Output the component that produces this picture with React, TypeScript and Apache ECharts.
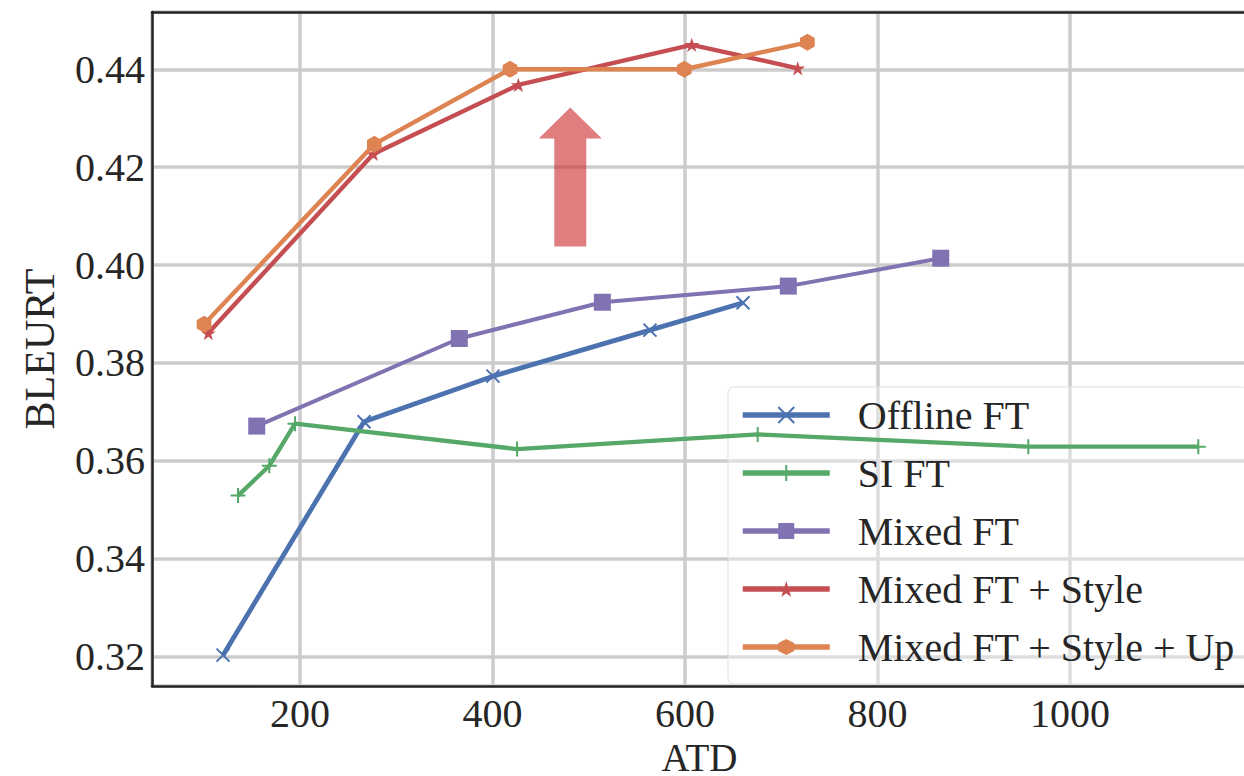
import React, { useEffect, useRef } from 'react';
import * as echarts from 'echarts';

const FONT = 'Liberation Serif, Times New Roman, serif';

const seriesNames = ['Offline FT', 'SI FT', 'Mixed FT', 'Mixed FT + Style', 'Mixed FT + Style + Up'];
const seriesColors = ['#4C72B0', '#55A868', '#8172B2', '#C44E52', '#DD8452'];

const offlineX = [120, 266.5, 400.5, 563.6, 660.3];
const offlineY = [0.3203, 0.368, 0.3773, 0.3867, 0.3923];

const siX = [135.6, 168.1, 194.8, 425.5, 675.5, 956.7, 1133.3];
const siY = [0.3529, 0.359, 0.3676, 0.3624, 0.3654, 0.3629, 0.3629];

const mixedX = [155, 365.5, 514.1, 707.3, 865.7];
const mixedY = [0.3671, 0.385, 0.3924, 0.3957, 0.4014];

const styleX = [104.7, 276.2, 426.8, 607, 717.1];
const styleY = [0.3861, 0.4227, 0.4368, 0.445, 0.4402];

const upX = [100.3, 277.2, 418.2, 599.3, 727.1];
const upY = [0.3879, 0.4247, 0.44, 0.44, 0.4455];

// arrow annotation: [x, bottom y, apex y]
const arrowData = [[480.8, 0.4038, 0.4322]];

const X_MIN = 46.2;
const X_MAX = 1183.9;
const Y_MIN = 0.314;
const Y_MAX = 0.4517;

const SYM_X = 'path://M0,0L10,10M10,0L0,10';
const SYM_PLUS = 'path://M5,0L5,10M0,5L10,5';
const SYM_STAR =
  'path://M50,0L61.23,34.55L97.55,34.55L68.17,55.9L79.39,90.45L50,69.1L20.61,90.45L31.83,55.9L2.45,34.55L38.77,34.55Z';
const SYM_HEX = 'path://M50,0L93.3,25L93.3,75L50,100L6.7,75L6.7,25Z';

function zip(xs: number[], ys: number[]) {
  return xs.map((x, i) => [x, ys[i]]);
}

export default function App() {
  const ref = useRef<HTMLDivElement>(null);
  useEffect(() => {
    const chart = echarts.init(ref.current!, null, { renderer: 'svg' });
    const lineSeries = (
      idx: number,
      data: number[][],
      symbol: string,
      size: number,
      width: number,
      stroke: boolean
    ) => ({
      type: 'line',
      name: seriesNames[idx],
      data,
      symbol,
      symbolSize: size,
      symbolKeepAspect: true,
      showAllSymbol: true,
      lineStyle: { color: seriesColors[idx], width },
      itemStyle: stroke
        ? { color: seriesColors[idx], borderColor: seriesColors[idx], borderWidth: 2 }
        : { color: seriesColors[idx], borderWidth: 0 },
      emphasis: { disabled: true },
      z: 3 + idx,
    });

    const option: any = {
      animation: false,
      backgroundColor: '#ffffff',
      grid: {
        left: 152,
        right: -3,
        top: 12,
        bottom: 90,
        containLabel: false,
        outerBoundsMode: 'none',
      },
      xAxis: [
        {
          type: 'value',
          min: X_MIN,
          max: X_MAX,
          splitNumber: 5,
          name: 'ATD',
          nameLocation: 'middle',
          nameGap: 46,
          nameTextStyle: {
            fontFamily: FONT,
            fontSize: 39,
            lineHeight: 40,
            verticalAlign: 'top',
            color: '#262626',
          },
          axisLine: { show: true, lineStyle: { color: '#262626', width: 2.5 } },
          axisTick: { show: false },
          axisLabel: {
            fontFamily: FONT,
            fontSize: 40,
            color: '#262626',
            margin: 7,
            showMinLabel: false,
            showMaxLabel: false,
            formatter: (v: number) => String(Math.round(v)),
          },
          splitLine: { show: true, lineStyle: { color: '#cccccc', width: 3.5 } },
        },
        {
          type: 'value',
          position: 'top',
          min: X_MIN,
          max: X_MAX,
          axisLine: { show: true, lineStyle: { color: '#262626', width: 2.5 } },
          axisTick: { show: false },
          axisLabel: { show: false },
          splitLine: { show: false },
        },
      ],
      yAxis: {
        type: 'value',
        min: Y_MIN,
        max: Y_MAX,
        splitNumber: 7,
        name: 'BLEURT',
        nameLocation: 'middle',
        nameGap: 91,
        nameTextStyle: { fontFamily: FONT, fontSize: 42, color: '#262626' },
        axisLine: { show: true, lineStyle: { color: '#262626', width: 2.5 } },
        axisTick: { show: false },
        axisLabel: {
          fontFamily: FONT,
          fontSize: 40,
          color: '#262626',
          margin: 7,
          showMinLabel: false,
          showMaxLabel: false,
          formatter: (v: number) => v.toFixed(2),
        },
        splitLine: { show: true, lineStyle: { color: '#cccccc', width: 3.5 } },
      },
      legend: {
        data: seriesNames,
        orient: 'vertical',
        left: 728,
        top: 387,
        itemWidth: 87,
        itemHeight: 20,
        itemGap: 18,
        padding: [8, 12, 17, 12],
        backgroundColor: 'rgba(255,255,255,0.35)',
        borderColor: '#dddddd',
        borderWidth: 1,
        borderRadius: 6,
        selectedMode: false,
        lineStyle: { width: 5.5 },
        textStyle: { fontFamily: FONT, fontSize: 40, color: '#262626', padding: [0, 0, 0, 23] },
      },
      series: [
        lineSeries(0, zip(offlineX, offlineY), SYM_X, 13, 4.8, true),
        lineSeries(1, zip(siX, siY), SYM_PLUS, 15, 4.3, true),
        lineSeries(2, zip(mixedX, mixedY), 'rect', 17, 4, false),
        lineSeries(3, zip(styleX, styleY), SYM_STAR, 15, 4.4, false),
        lineSeries(4, zip(upX, upY), SYM_HEX, 17, 4.4, false),
        {
          type: 'custom',
          name: 'arrow',
          silent: true,
          clip: false,
          z: 10,
          data: arrowData,
          renderItem: (params: any, api: any) => {
            const b = api.coord([api.value(0), api.value(1)]);
            const t = api.coord([api.value(0), api.value(2)]);
            const cx = b[0];
            const sw = 16;
            const hw = 31.5;
            const hh = 31;
            return {
              type: 'polygon',
              shape: {
                points: [
                  [cx - sw, b[1]],
                  [cx + sw, b[1]],
                  [cx + sw, t[1] + hh],
                  [cx + hw, t[1] + hh],
                  [cx, t[1]],
                  [cx - hw, t[1] + hh],
                  [cx - sw, t[1] + hh],
                ],
              },
              style: { fill: 'rgba(204,40,42,0.6)' },
            };
          },
        },
      ],
    };
    chart.setOption(option);
    return () => chart.dispose();
  }, []);
  return (
    <div
      ref={ref}
      style={{ position: 'fixed', left: 0, top: 0, width: 1244, height: 776, background: '#fff' }}
    />
  );
}
